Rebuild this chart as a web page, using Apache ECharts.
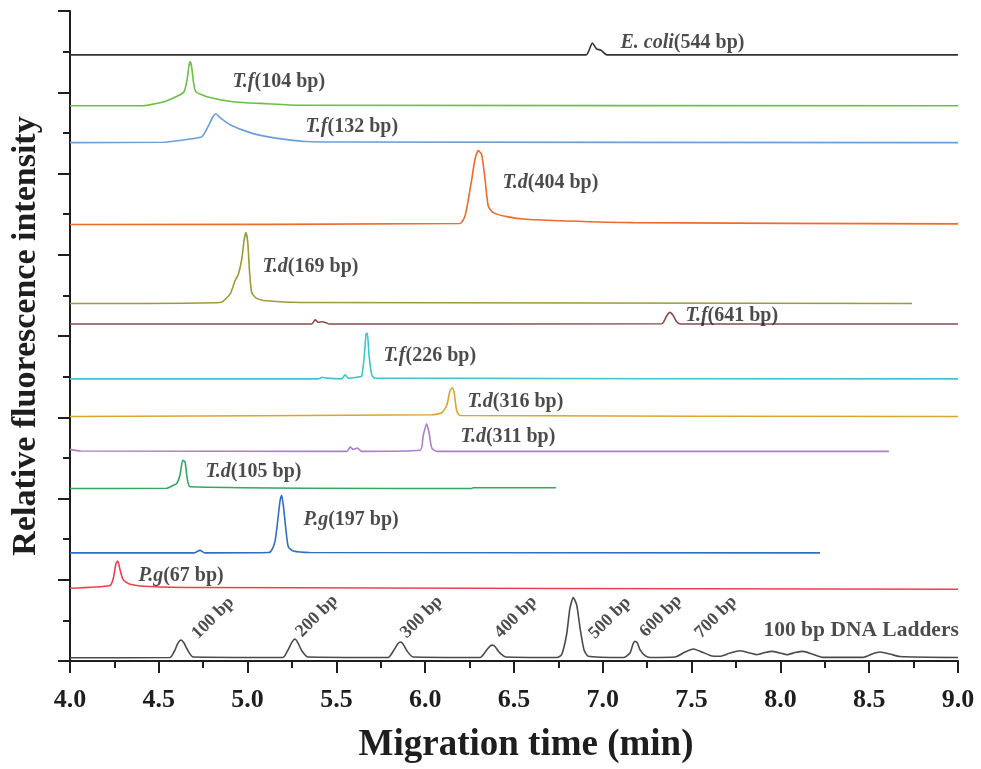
<!DOCTYPE html>
<html>
<head>
<meta charset="utf-8">
<script src="https://cdn.jsdelivr.net/npm/echarts@6/dist/echarts.min.js"></script>
<style>html,body{margin:0;padding:0;background:#fff}#c{width:981px;height:769px}</style>
</head>
<body>
<div id="c"></div>
<script>
// ---- Data (time in min, relative intensity in stacked units) ----
const xTicks = [4.0, 4.5, 5.0, 5.5, 6.0, 6.5, 7.0, 7.5, 8.0, 8.5, 9.0];

const eColi = [[4.0,7.46],[6.905,7.46],[6.941,7.607],[6.966,7.53],[6.988,7.52],[7.024,7.46],[9.0,7.46]];
const tf104 = [[4.0,6.834],[4.411,6.834],[4.479,6.859],[4.546,6.896],[4.608,6.957],[4.642,7.006],[4.659,7.153],[4.670,7.325],[4.676,7.374],[4.684,7.325],[4.695,7.129],[4.709,7.006],[4.771,6.945],[4.918,6.883],[5.109,6.859],[5.295,6.840],[9.0,6.834]];
const tf132 = [[4.0,6.380],[4.524,6.384],[4.693,6.429],[4.743,6.454],[4.777,6.577],[4.805,6.699],[4.822,6.736],[4.845,6.687],[4.901,6.601],[5.014,6.503],[5.109,6.454],[5.222,6.417],[5.334,6.393],[5.464,6.387],[9.0,6.380]];
const td404 = [[4.0,5.372],[6.196,5.385],[6.224,5.476],[6.243,5.681],[6.262,5.926],[6.280,6.172],[6.299,6.282],[6.318,6.233],[6.337,5.926],[6.355,5.599],[6.383,5.518],[6.459,5.469],[6.571,5.436],[6.797,5.415],[7.170,5.395],[9.0,5.380]];
const td169 = [[4.0,4.400],[4.845,4.413],[4.901,4.515],[4.929,4.679],[4.948,4.761],[4.967,4.945],[4.981,5.190],[4.991,5.272],[5.001,5.150],[5.010,4.822],[5.023,4.536],[5.051,4.463],[5.108,4.433],[5.295,4.413],[8.741,4.400]];
const tf641 = [[4.0,4.147],[5.361,4.147],[5.380,4.200],[5.398,4.168],[5.420,4.175],[5.445,4.160],[5.46,4.147],[7.33,4.150],[7.341,4.168],[7.360,4.249],[7.378,4.291],[7.397,4.249],[7.416,4.175],[7.44,4.147],[9.0,4.147]];
const tf226 = [[4.0,3.472],[5.40,3.472],[5.417,3.493],[5.445,3.481],[5.53,3.472],[5.548,3.521],[5.567,3.481],[5.614,3.493],[5.642,3.506],[5.657,3.758],[5.667,4.025],[5.674,4.037],[5.684,3.758],[5.699,3.521],[5.717,3.481],[9.0,3.472]];
const td316 = [[4.0,3.010],[6.037,3.031],[6.093,3.055],[6.121,3.145],[6.140,3.329],[6.153,3.362],[6.164,3.288],[6.177,3.083],[6.196,3.022],[9.0,3.010]];
const td311 = [[4.0,2.605],[4.06,2.585],[5.56,2.580],[5.577,2.634],[5.595,2.605],[5.618,2.622],[5.642,2.580],[5.971,2.593],[5.989,2.777],[6.008,2.920],[6.021,2.818],[6.037,2.622],[6.065,2.580],[8.611,2.580]];
const td105 = [[4.0,2.123],[4.544,2.127],[4.582,2.163],[4.601,2.184],[4.619,2.286],[4.635,2.470],[4.648,2.450],[4.660,2.245],[4.676,2.144],[6.26,2.123],[6.27,2.133],[6.736,2.133]];
const pg197 = [[4.0,1.331],[4.70,1.331],[4.732,1.362],[4.76,1.331],[5.12,1.335],[5.136,1.366],[5.154,1.469],[5.169,1.714],[5.182,1.960],[5.192,2.040],[5.201,1.918],[5.215,1.632],[5.229,1.407],[5.257,1.353],[5.35,1.335],[8.223,1.331]];
const pg67 = [[4.0,0.896],[4.225,0.929],[4.244,1.018],[4.259,1.202],[4.269,1.231],[4.282,1.120],[4.300,0.998],[4.338,0.945],[4.450,0.917],[4.732,0.904],[9.0,0.883]];
const ladder = [[4.0,0.040],[4.563,0.043],[4.591,0.135],[4.608,0.221],[4.625,0.258],[4.642,0.221],[4.659,0.147],[4.693,0.049],
  [5.199,0.043],[5.227,0.135],[5.250,0.233],[5.267,0.270],[5.284,0.221],[5.306,0.123],[5.340,0.049],
  [5.791,0.043],[5.824,0.135],[5.847,0.215],[5.861,0.233],[5.875,0.209],[5.898,0.123],[5.931,0.049],
  [6.309,0.043],[6.342,0.123],[6.365,0.184],[6.379,0.196],[6.393,0.178],[6.416,0.110],[6.455,0.049],
  [6.742,0.043],[6.768,0.077],[6.796,0.323],[6.815,0.650],[6.834,0.782],[6.853,0.691],[6.872,0.405],[6.894,0.139],[6.918,0.058],
  [7.119,0.043],[7.153,0.098],[7.170,0.209],[7.181,0.242],[7.195,0.221],[7.209,0.139],[7.238,0.065],[7.266,0.043],
  [7.407,0.049],[7.463,0.110],[7.508,0.147],[7.559,0.110],[7.615,0.061],[7.660,0.058],[7.716,0.098],[7.773,0.126],[7.829,0.098],[7.868,0.077],[7.913,0.104],[7.953,0.119],[7.998,0.098],[8.037,0.077],[8.082,0.104],[8.127,0.119],[8.178,0.086],[8.240,0.045],
  [8.465,0.045],[8.516,0.086],[8.561,0.110],[8.617,0.086],[8.673,0.055],[9.0,0.043]];

const traceNames = ['E. coli(544 bp)','T.f(104 bp)','T.f(132 bp)','T.d(404 bp)','T.d(169 bp)','T.f(641 bp)','T.f(226 bp)','T.d(316 bp)','T.d(311 bp)','T.d(105 bp)','P.g(197 bp)','P.g(67 bp)','100 bp DNA Ladders'];
const traceData = [eColi, tf104, tf132, td404, td169, tf641, tf226, td316, td311, td105, pg197, pg67, ladder];
const traceColors = ['#333333','#6cbf45','#6a9fda','#f06a28','#9d9b38','#8b4b4b','#3cc7d0','#dca52c','#ac7fc8','#34a85f','#2f6fc2','#ef3f4f','#4a4a4a'];

// Peak annotations: italic part, plain part, anchor [time, intensity]
const annItalic = ['E. coli','T.f','T.f','T.d','T.d','T.f','T.f','T.d','T.d','T.d','P.g','P.g',''];
const annPlain  = ['(544 bp)','(104 bp)','(132 bp)','(404 bp)','(169 bp)','(641 bp)','(226 bp)','(316 bp)','(311 bp)','(105 bp)','(197 bp)','(67 bp)','100 bp DNA Ladders'];
const annPos = [[7.097,7.607],[4.912,7.129],[5.323,6.577],[6.432,5.890],[5.081,4.847],[7.463,4.245],[5.762,3.755],[6.235,3.190],[6.196,2.761],[4.760,2.331],[5.312,1.742],[4.383,1.043],[7.902,0.380]];

// Ladder fragment labels (rotated)
const ladderLabels = ['100 bp','200 bp','300 bp','400 bp','500 bp','600 bp','700 bp'];
const ladderLabelPos = [[4.805,0.528],[5.390,0.552],[5.980,0.540],[6.510,0.540],[7.040,0.528],[7.327,0.552],[7.637,0.540]];

// ---- Chart ----
const FONT = '"Liberation Serif", "Times New Roman", serif';
const TXT = '#1e1e1e';
const chart = echarts.init(document.getElementById('c'), null, {renderer: 'canvas'});

const series = traceData.map((d, i) => ({
  name: traceNames[i], type: 'line', data: d, showSymbol: false, symbol: 'none',
  smooth: 0.2, lineStyle: {color: traceColors[i], width: 1.6}, z: 2, silent: true
}));

series.push({
  type: 'scatter', symbolSize: 1, itemStyle: {color: 'rgba(0,0,0,0)'}, silent: true, z: 5,
  data: annPos.map((p, i) => ({value: p, it: annItalic[i], pl: annPlain[i]})),
  label: {
    show: true, position: 'right', distance: 0,
    formatter: p => p.data.it ? '{i|' + p.data.it + '}{n|' + p.data.pl + '}' : '{w|' + p.data.pl + '}',
    rich: {
      i: {fontFamily: FONT, fontWeight: 'bold', fontStyle: 'italic', fontSize: 20, color: TXT},
      n: {fontFamily: FONT, fontWeight: 'bold', fontSize: 20, color: TXT},
      w: {fontFamily: FONT, fontWeight: 'bold', fontSize: 21.5, color: TXT}
    }
  }
});

series.push({
  type: 'scatter', symbolSize: 1, itemStyle: {color: 'rgba(0,0,0,0)'}, silent: true, z: 5,
  data: ladderLabelPos.map((p, i) => ({value: p, nm: ladderLabels[i]})),
  label: {
    show: true, position: 'inside', rotate: 45, align: 'center', verticalAlign: 'middle',
    formatter: p => p.data.nm,
    fontFamily: FONT, fontWeight: 'bold', fontSize: 18, color: TXT
  }
});

chart.setOption({
  animation: false,
  backgroundColor: '#fff',
  grid: {left: 70, right: 23, top: 11, bottom: 106, containLabel: false},
  xAxis: {
    type: 'value', min: 4, max: 9, interval: 0.5,
    name: 'Migration time (min)', nameLocation: 'middle', nameGap: 66,
    nameTextStyle: {fontFamily: FONT, fontWeight: 'bold', fontSize: 37, color: TXT, padding: [0, 0, 0, 24]},
    axisLine: {show: true, onZero: false, lineStyle: {color: '#1e1e1e', width: 2}},
    axisTick: {show: true, inside: false, length: 12, lineStyle: {color: '#1e1e1e', width: 2}},
    minorTick: {show: true, splitNumber: 2, length: 7, lineStyle: {color: '#1e1e1e', width: 2}},
    axisLabel: {fontFamily: FONT, fontWeight: 'bold', fontSize: 26, color: TXT, margin: 26,
      formatter: v => v.toFixed(1)},
    splitLine: {show: false}
  },
  yAxis: {
    type: 'value', min: 0, max: 8, interval: 1,
    name: 'Relative fluorescence intensity', nameLocation: 'middle', nameGap: 27,
    nameTextStyle: {fontFamily: FONT, fontWeight: 'bold', fontSize: 34, color: TXT},
    axisLine: {show: true, onZero: false, lineStyle: {color: '#1e1e1e', width: 2}},
    axisTick: {show: true, inside: false, length: 12, lineStyle: {color: '#1e1e1e', width: 2}},
    minorTick: {show: true, splitNumber: 2, length: 7, lineStyle: {color: '#1e1e1e', width: 2}},
    axisLabel: {show: false},
    splitLine: {show: false}
  },
  series: series
});
</script>
</body>
</html>
